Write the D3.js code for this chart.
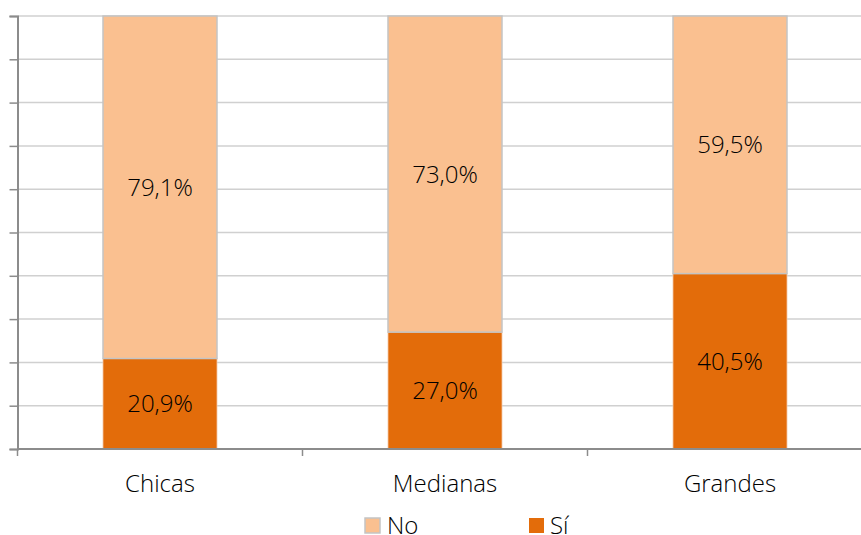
<!DOCTYPE html>
<html>
<head>
<meta charset="utf-8">
<script src="https://cdn.jsdelivr.net/npm/d3@7"></script>
<style>
  html, body { margin: 0; padding: 0; background: #fff; }
  svg { display: block; }
  text { font-family: "Open Sans", sans-serif; font-weight: 350; fill: #000; font-size: 24px; }
</style>
</head>
<body>
<svg id="chart" width="861" height="535"></svg>
<script>
// Company size categories and share of answers (percent)
const categories = ["Chicas", "Medianas", "Grandes"];
const siValues = [20.9, 27.0, 40.5];
const noValues = [79.1, 73.0, 59.5];
const seriesNames = ["No", "Sí"];
const yTicks = d3.range(0, 101, 10);

const colors = { "Sí": "#E36C0A", "No": "#FAC090" };

const svg = d3.select("#chart");
const margin = { left: 17.5, top: 16, bottom: 449 };
const bandStep = 285;

const x = d3.scaleBand()
  .domain(categories)
  .range([margin.left, margin.left + bandStep * categories.length])
  .paddingInner(0.6)
  .paddingOuter(0.3);

const y = d3.scaleLinear().domain([0, 100]).range([margin.bottom, margin.top]);

// horizontal gridlines
svg.append("g")
  .selectAll("line")
  .data(yTicks.slice(1))
  .join("line")
  .attr("x1", margin.left)
  .attr("x2", 861)
  .attr("y1", d => y(d))
  .attr("y2", d => y(d))
  .attr("stroke", "#d0d0d0")
  .attr("stroke-width", 1.5);

// stacked bars
const rows = categories.map((c, i) => ({ cat: c, "Sí": siValues[i], "No": noValues[i] }));
const stack = d3.stack().keys(["Sí", "No"])(rows);

const layers = svg.append("g")
  .selectAll("g")
  .data(stack)
  .join("g")
  .attr("fill", d => colors[d.key]);

layers.selectAll("rect")
  .data(d => d.map(v => ({ key: d.key, v })))
  .join("rect")
  .attr("x", d => x(d.v.data.cat))
  .attr("width", x.bandwidth())
  .attr("y", d => y(d.v[1]))
  .attr("height", d => y(d.v[0]) - y(d.v[1]))
  .attr("stroke", d => d.key === "No" ? "#c4c4c4" : "#f2c9a8")
  .attr("stroke-width", d => d.key === "No" ? 1.5 : 0.8);

// value labels
layers.selectAll("text")
  .data(d => d.map(v => ({ key: d.key, v })))
  .join("text")
  .attr("x", d => x(d.v.data.cat) + x.bandwidth() / 2)
  .attr("y", d => (y(d.v[0]) + y(d.v[1])) / 2)
  .attr("dy", "0.36em")
  .attr("text-anchor", "middle")
  .text(d => d3.format(".1f")(d.v[1] - d.v[0]).replace(".", ",") + "%");

// y axis (no labels)
const yAxis = d3.axisLeft(y).tickValues(yTicks).tickSize(8).tickFormat("");
const gy = svg.append("g").attr("transform", `translate(${margin.left},0)`).call(yAxis);
gy.select(".domain").attr("stroke", "#8c8c8c").attr("stroke-width", 2);
gy.selectAll(".tick line").attr("stroke", "#8c8c8c").attr("stroke-width", 1.5);

// x axis: line at the baseline, ticks at category boundaries
const gx = svg.append("g");
gx.append("line")
  .attr("x1", margin.left).attr("x2", 861)
  .attr("y1", y(0)).attr("y2", y(0))
  .attr("stroke", "#8c8c8c").attr("stroke-width", 2);
gx.selectAll("line.tick")
  .data(d3.range(categories.length + 1))
  .join("line")
  .attr("class", "tick")
  .attr("x1", i => margin.left + i * bandStep)
  .attr("x2", i => margin.left + i * bandStep)
  .attr("y1", y(0))
  .attr("y2", y(0) + 7)
  .attr("stroke", "#8c8c8c")
  .attr("stroke-width", 1.5);
gx.selectAll("text")
  .data(categories)
  .join("text")
  .attr("x", d => x(d) + x.bandwidth() / 2)
  .attr("y", 483)
  .attr("dy", "0.36em")
  .attr("text-anchor", "middle")
  .text(d => d);

// legend
const legendX = [365, 529];
const legend = svg.append("g")
  .selectAll("g")
  .data(seriesNames)
  .join("g")
  .attr("transform", (d, i) => `translate(${legendX[i]},518)`);
legend.append("rect")
  .attr("width", 15).attr("height", 15)
  .attr("fill", d => colors[d])
  .attr("stroke", d => d === "No" ? "#c4c4c4" : "none")
  .attr("stroke-width", 1.5);
legend.append("text")
  .attr("x", d => d === "No" ? 22 : 21)
  .attr("y", 16)
  .text(d => d);
</script>
</body>
</html>
